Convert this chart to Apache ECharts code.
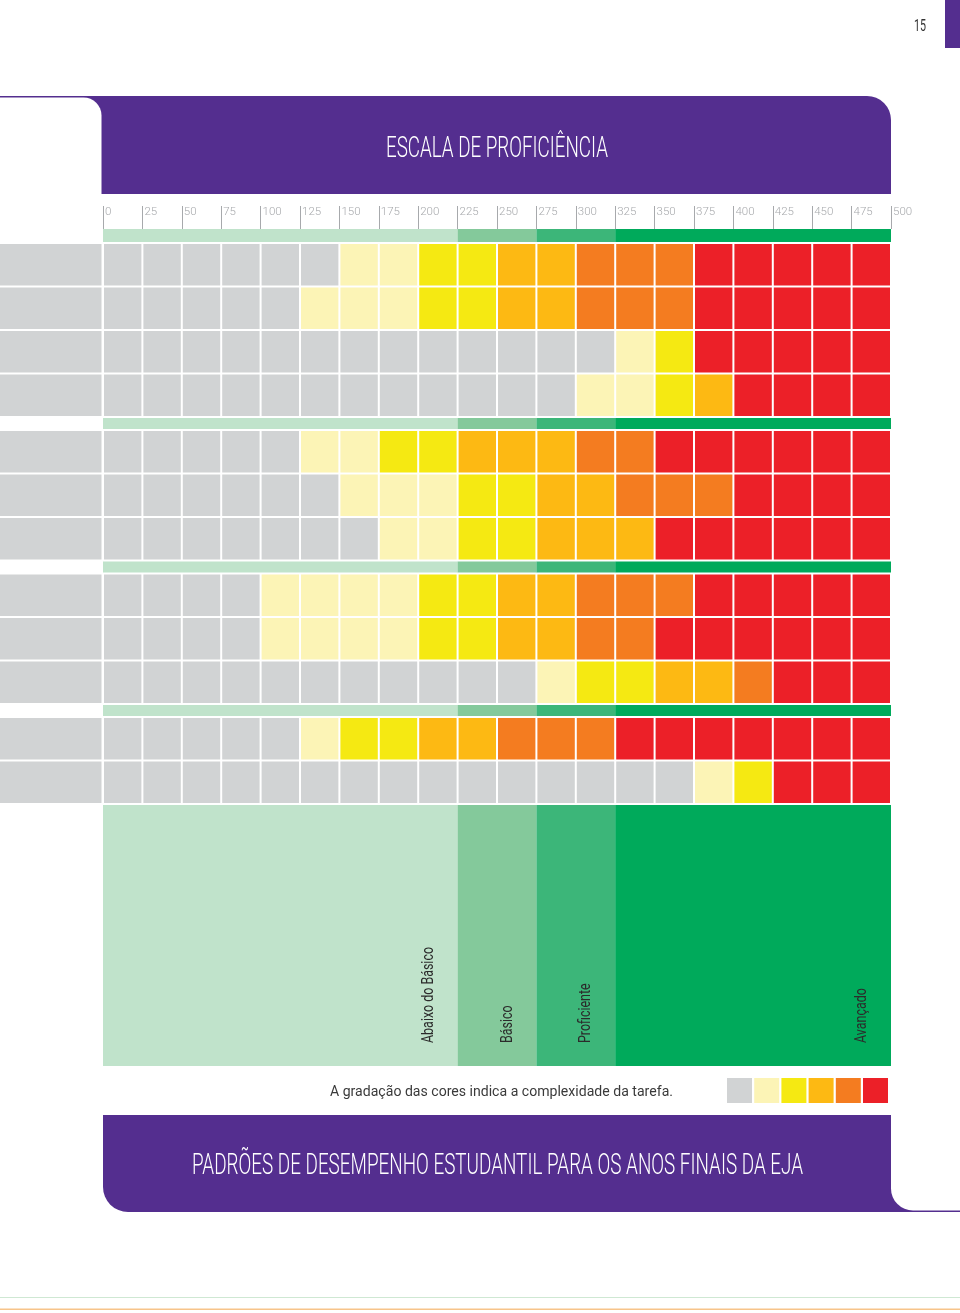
<!DOCTYPE html>
<html><head><meta charset="utf-8">
<script src="https://cdn.jsdelivr.net/npm/echarts@6/dist/echarts.min.js"></script>
<style>html,body{margin:0;padding:0;background:#fff}#chart{width:960px;height:1313px}</style>
</head><body><div id="chart"></div>
<script>
// ---------------- DATA ----------------
const tickLabels = ['0','25','50','75','100','125','150','175','200','225','250','275','300','325','350','375','400','425','450','475','500'];
const columnStarts = [0,25,50,75,100,125,150,175,200,225,250,275,300,325,350,375,400,425,450,475];
const columnWidth = 25;
const levelNames = ['Abaixo do Básico','Básico','Proficiente','Avançado'];
const levelFrom = [0,225,275,325];
const levelTo = [225,275,325,500];
const groupSizes = [4,3,3,2];
// complexity level per cell: 0 gray, 1 pale yellow, 2 yellow, 3 gold, 4 orange, 5 red
const rowLevels = [
  [0,0,0,0,0,0,1,1,2,2,3,3,4,4,4,5,5,5,5,5],
  [0,0,0,0,0,1,1,1,2,2,3,3,4,4,4,5,5,5,5,5],
  [0,0,0,0,0,0,0,0,0,0,0,0,0,1,2,5,5,5,5,5],
  [0,0,0,0,0,0,0,0,0,0,0,0,1,1,2,3,5,5,5,5],
  [0,0,0,0,0,1,1,2,2,3,3,3,4,4,5,5,5,5,5,5],
  [0,0,0,0,0,0,1,1,1,2,2,3,3,4,4,4,5,5,5,5],
  [0,0,0,0,0,0,0,1,1,2,2,3,3,3,5,5,5,5,5,5],
  [0,0,0,0,1,1,1,1,2,2,3,3,4,4,4,5,5,5,5,5],
  [0,0,0,0,1,1,1,1,2,2,3,3,4,4,5,5,5,5,5,5],
  [0,0,0,0,0,0,0,0,0,0,0,1,2,2,3,3,4,5,5,5],
  [0,0,0,0,0,1,2,2,3,3,4,4,4,5,5,5,5,5,5,5],
  [0,0,0,0,0,0,0,0,0,0,0,0,0,0,0,1,2,5,5,5]
];
const complexityColors = ['#d1d3d4','#fcf4b6','#f5e912','#fdb913','#f47c20','#ec2028'];
const bandColors = ['#c0e3cb','#84c99b','#3cb679','#00aa5b'];
const titleTop = 'ESCALA DE PROFICIÊNCIA';
const titleBottom = 'PADRÕES DE DESEMPENHO ESTUDANTIL PARA OS ANOS FINAIS DA EJA';
const legendText = 'A gradação das cores indica a complexidade da tarefa.';
const pageNumber = '15';

// ---------------- LAYOUT ----------------
const PURPLE = '#542e8f';
const GRID_TOP = 229, GRID_LEFT = 103, GRID_RIGHT = 69, GRID_H = 837;
const FIRST_STRIPE_H = 13, STRIPE_H = 11, GAP = 2, ROW_H = 41.5, ROW_PITCH = 43.5;
const stripes = [], rowsTop = [];
(function(){
  let y = 0;
  groupSizes.forEach((n, g) => {
    const h = g === 0 ? FIRST_STRIPE_H : STRIPE_H;
    stripes.push([y, h]);
    y += h + GAP;
    for (let i = 0; i < n; i++) { rowsTop.push(y); y += ROW_PITCH; }
  });
  stripes.blockTop = y;
})();
const BLOCK_TOP = stripes.blockTop;

const CONDENSED = 'Roboto, "Noto Sans", sans-serif';
const mctx = document.createElement('canvas').getContext('2d');
function fit(text, font, target) { mctx.font = font; return target / mctx.measureText(text).width; }
const TITLE_FONT = '300 30px ' + CONDENSED;
const LABEL_FONT = '17px ' + CONDENSED;
const LEGEND_FONT = '14px ' + CONDENSED;
const PAGE_FONT = '16px ' + CONDENSED;
const labelScale = fit(levelNames[0], LABEL_FONT, 96);

// ---------------- SERIES DATA ----------------
const cellData = [];
rowLevels.forEach((row, r) => row.forEach((lv, c) => cellData.push([columnStarts[c], r, lv])));
const stripeData = [];
groupSizes.forEach((n, g) => levelFrom.forEach((f, b) => stripeData.push([f, levelTo[b], g, b])));
const blockData = levelFrom.map((f, b) => [f, levelTo[b], b]);
const rowBoxData = rowLevels.map((_, r) => [0, r]);

const chart = echarts.init(document.getElementById('chart'), null, {renderer: 'canvas'});

const option = {
  animation: false,
  backgroundColor: '#fff',
  grid: {left: GRID_LEFT, right: GRID_RIGHT, top: GRID_TOP, height: GRID_H},
  xAxis: {
    type: 'value', position: 'top', min: 0, max: 500, interval: 25, offset: 2,
    axisLine: {show: false},
    splitLine: {show: false},
    axisTick: {show: true, length: 23, lineStyle: {color: '#a7a9ac', width: 1}},
    axisLabel: {
      show: true, showMinLabel: true, showMaxLabel: true,
      margin: 15, align: 'left', verticalAlign: 'middle', padding: [0,0,0,2],
      color: '#a7a9ac', fontSize: 11.5, fontWeight: 300, fontFamily: CONDENSED,
      formatter: v => tickLabels[Math.round(v / columnWidth)]
    }
  },
  yAxis: {type: 'value', min: 0, max: GRID_H, inverse: true, show: false},
  series: [
    {
      type: 'custom', name: 'stripes', data: stripeData, clip: false,
      renderItem: (params, api) => {
        const g = api.value(2), b = api.value(3);
        const p0 = api.coord([api.value(0), stripes[g][0]]);
        const p1 = api.coord([api.value(1), stripes[g][0] + stripes[g][1]]);
        return {type: 'rect', shape: {x: p0[0], y: p0[1], width: p1[0] - p0[0], height: p1[1] - p0[1]},
                style: {fill: bandColors[b]}};
      }
    },
    {
      type: 'custom', name: 'levels', data: blockData, clip: false,
      renderItem: (params, api) => {
        const b = api.value(2);
        const p0 = api.coord([api.value(0), BLOCK_TOP]);
        const p1 = api.coord([api.value(1), GRID_H]);
        return {type: 'group', children: [
          {type: 'rect', shape: {x: p0[0], y: p0[1], width: p1[0] - p0[0], height: p1[1] - p0[1]},
           style: {fill: bandColors[b]}},
          {type: 'text', x: p1[0] - 29, y: p1[1] - 23, rotation: Math.PI / 2, scaleX: labelScale,
           style: {text: levelNames[b], font: LABEL_FONT, fill: '#2b2b2b', align: 'left', verticalAlign: 'middle'}}
        ]};
      }
    },
    {
      type: 'custom', name: 'rowboxes', data: rowBoxData, clip: false,
      renderItem: (params, api) => {
        const r = api.value(1);
        const p = api.coord([0, rowsTop[r]]);
        return {type: 'rect', shape: {x: 0, y: p[1], width: p[0] - 1.5, height: ROW_H},
                style: {fill: complexityColors[0]}};
      }
    },
    {
      type: 'custom', name: 'cells', data: cellData, clip: false,
      renderItem: (params, api) => {
        const x = api.value(0), r = api.value(1), lv = api.value(2);
        const p0 = api.coord([x, rowsTop[r]]);
        const p1 = api.coord([x + columnWidth, rowsTop[r] + ROW_H]);
        return {type: 'rect', shape: {x: p0[0] + 1, y: p0[1], width: p1[0] - p0[0] - 2, height: p1[1] - p0[1]},
                style: {fill: complexityColors[lv]}};
      }
    }
  ],
  graphic: [
    // top header
    {type: 'rect', z: 1, shape: {x: 0, y: 96, width: 891, height: 98, r: [0, 24, 0, 0]}, style: {fill: PURPLE}},
    {type: 'rect', z: 2, shape: {x: 0, y: 97.5, width: 101.5, height: 97, r: [0, 18, 0, 0]}, style: {fill: '#fff'}},
    {type: 'text', z: 3, x: 497, y: 149, scaleX: fit(titleTop, TITLE_FONT, 222),
     style: {text: titleTop, font: TITLE_FONT, fill: '#fff', align: 'center', verticalAlign: 'middle'}},
    // page tab & number
    {type: 'rect', z: 1, shape: {x: 945, y: 0, width: 15, height: 48}, style: {fill: PURPLE}},
    {type: 'text', z: 3, x: 920, y: 26.5, scaleX: fit(pageNumber, PAGE_FONT, 12),
     style: {text: pageNumber, font: PAGE_FONT, fill: '#333', align: 'center', verticalAlign: 'middle'}},
    // legend
    {type: 'text', z: 3, x: 330, y: 1092, scaleX: fit(legendText, LEGEND_FONT, 343),
     style: {text: legendText, font: LEGEND_FONT, fill: '#3a3a3a', align: 'left', verticalAlign: 'middle'}},
    ...complexityColors.map((c, i) => ({type: 'rect', z: 3,
      shape: {x: 727 + i * 27.2, y: 1078, width: 25, height: 25}, style: {fill: c}})),
    // bottom header
    {type: 'rect', z: 1, shape: {x: 103, y: 1115, width: 857, height: 97, r: [0, 0, 0, 25]}, style: {fill: PURPLE}},
    {type: 'rect', z: 2, shape: {x: 891, y: 1114, width: 69, height: 96.5, r: [0, 0, 0, 22]}, style: {fill: '#fff'}},
    {type: 'text', z: 3, x: 497.5, y: 1166, scaleX: fit(titleBottom, TITLE_FONT, 611),
     style: {text: titleBottom, font: TITLE_FONT, fill: '#fff', align: 'center', verticalAlign: 'middle'}},
    // footer lines
    {type: 'rect', z: 1, shape: {x: 0, y: 1297, width: 960, height: 1}, style: {fill: '#cfe8d3'}},
    {type: 'rect', z: 1, shape: {x: 0, y: 1308.5, width: 960, height: 1.5}, style: {fill: '#f7c48a'}}
  ]
};
chart.setOption(option);
</script></body></html>
